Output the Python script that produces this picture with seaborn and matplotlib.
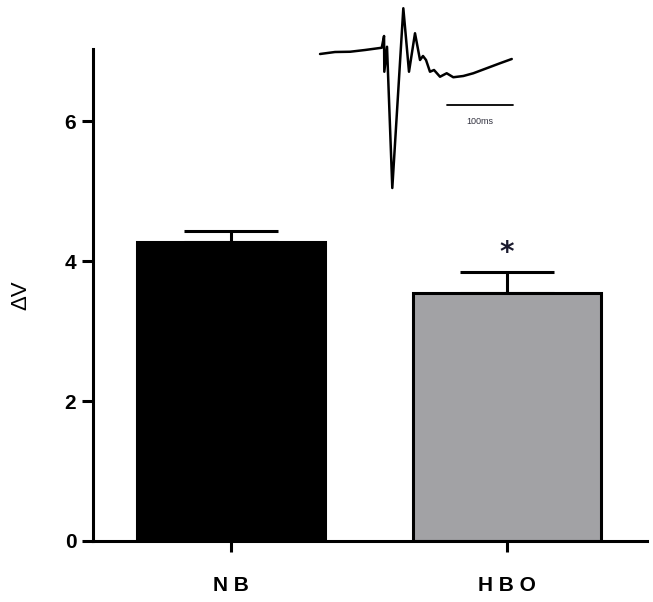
import matplotlib
matplotlib.use("Agg")
import matplotlib.pyplot as plt
import seaborn as sns
import numpy as np

# --- data ---
categories = ["NB", "HBO"]
means = [4.27, 3.55]
sem_upper = [0.16, 0.29]
bar_colors = ["#000000", "#a2a1a6"]
yticks = [0, 2, 4, 6]
sig_marks = ["", "*"]

# inset trace (time in ms, amplitude in arbitrary units)
trace_t = [0, 22.7, 45.5, 68.2, 93.5, 97.0, 97.4, 101.5, 109.5, 126.2,
           134.8, 143.9, 151.5, 156.0, 160.6, 166.6, 172.7, 181.8, 191.9,
           201.9, 217.1, 232.3, 252.5, 272.7, 290.5]
trace_v = [0.0, 0.08, 0.09, 0.16, 0.25, 0.72, -0.71, 0.29, -5.36, 1.83,
           -0.71, 0.83, -0.24, -0.08, -0.24, -0.71, -0.64, -0.91, -0.77,
           -0.93, -0.88, -0.77, -0.57, -0.37, -0.20]
scalebar_t = [192.4, 292.4]
scalebar_v = [-2.04, -2.04]
scalebar_label = "100ms"

sns.set_theme(style="ticks", rc={
    "text.color": "black", "axes.labelcolor": "black",
    "axes.edgecolor": "black", "xtick.color": "black", "ytick.color": "black",
})
plt.rcParams["font.family"] = ["Liberation Sans", "DejaVu Sans"]

fig = plt.figure(figsize=(6.53, 6.02), dpi=100)
ax = fig.add_axes([93 / 653, 1 - 541 / 602, 554 / 653, 492 / 602])

sns.barplot(x=categories, y=means, hue=categories, palette=bar_colors,
            width=0.68, edgecolor="black", linewidth=2.2, legend=False, ax=ax)
ax.errorbar(x=np.arange(len(categories)), y=means,
            yerr=[np.zeros(len(categories)), sem_upper],
            fmt="none", ecolor="black", elinewidth=2.2, capsize=34, capthick=2.2,
            zorder=0)

for i, (m, s, mark) in enumerate(zip(means, sem_upper, sig_marks)):
    if mark:
        ax.text(i, m + s + 0.07, mark, ha="center", va="bottom",
                fontsize=20, fontweight="bold", color="#1a1a2e",
                family="DejaVu Sans")

ax.set_ylim(0, 7.03)
ax.set_xlim(-0.5, 1.507)
ax.set_yticks(yticks)
ax.set_yticklabels([str(v) for v in yticks], fontsize=15, fontweight="bold")
ax.set_xticks(range(len(categories)))
ax.set_xticklabels([" ".join(c) for c in categories], fontsize=15,
                   fontweight="bold")
ax.set_ylabel("ΔV", fontsize=16, labelpad=24)
ax.set_xlabel("")
for side in ["top", "right"]:
    ax.spines[side].set_visible(False)
for side in ["left", "bottom"]:
    ax.spines[side].set_linewidth(2.2)
ax.tick_params(axis="both", width=2.2, length=8, color="black", pad=4)
ax.tick_params(axis="x", pad=17)

# inset with trace
iax = fig.add_axes([310 / 653, 1 - 195 / 602, 210 / 653, 195 / 602])
iax.plot(trace_t, trace_v, color="black", lw=1.8)
iax.plot(scalebar_t, scalebar_v, color="black", lw=1.3)
iax.text(np.mean(scalebar_t), scalebar_v[0] - 0.66, scalebar_label,
         ha="center", va="center", fontsize=6.5, color="#333340")
iax.set_xlim(-15.2, 303)
iax.set_ylim(-5.64, 2.16)
iax.axis("off")

fig.savefig("out.png", dpi=100)
